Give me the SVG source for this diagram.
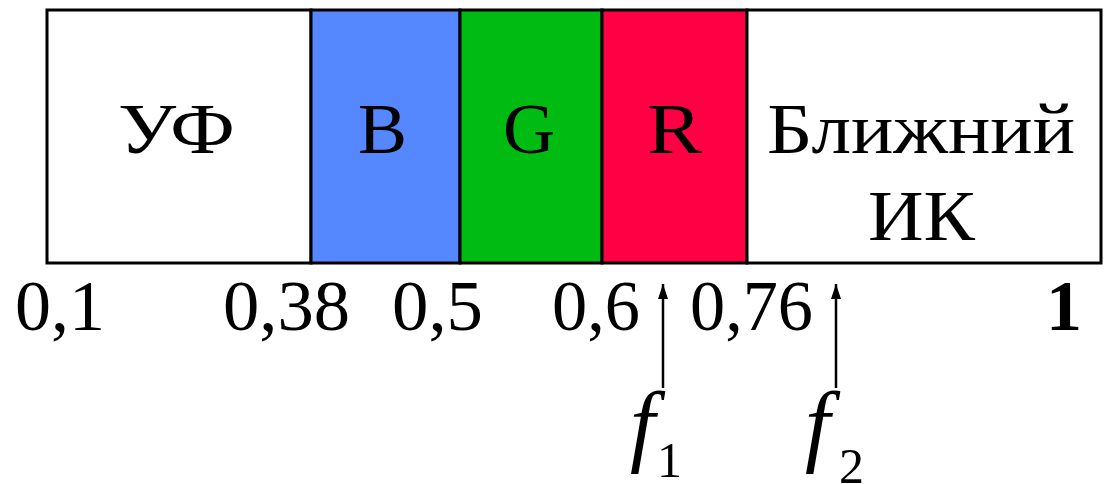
<svg xmlns="http://www.w3.org/2000/svg" width="1105" height="484" viewBox="0 0 1105 484">
<style>
.band{stroke:#000;stroke-width:3}
.lbl{font-family:"Liberation Serif","Times New Roman",serif;font-size:72px;fill:#000;text-anchor:middle}
.num{font-family:"Liberation Serif","Times New Roman",serif;font-size:72px;fill:#000}
.fi{font-family:"Liberation Serif","Times New Roman",serif;font-style:italic;font-size:90px;fill:#000}
.sub{font-family:"Liberation Serif","Times New Roman",serif;font-size:50px;fill:#000}
.conn{stroke:#000;stroke-width:2.5;fill:none}
</style>
<defs>
<marker id="ah" viewBox="0 0 15 10" refX="15" refY="5" markerWidth="15" markerHeight="10" orient="auto" markerUnits="userSpaceOnUse">
<path d="M0,0 L15,5 L0,10 Z" fill="#000"/>
</marker>
</defs>
<rect width="1105" height="484" fill="#fff"/>
<g id="uv"><rect class="band" x="47" y="10" width="264" height="253" fill="#fff"/><text class="lbl" x="176.5" y="153" textLength="117" lengthAdjust="spacingAndGlyphs">УФ</text></g>
<g id="blue"><rect class="band" x="311" y="10" width="149" height="253" fill="#5588ff"/><text class="lbl" x="382.5" y="153" textLength="49" lengthAdjust="spacingAndGlyphs">B</text></g>
<g id="green"><rect class="band" x="460" y="10" width="142" height="253" fill="#00bb11"/><text class="lbl" x="529" y="153" textLength="52" lengthAdjust="spacingAndGlyphs">G</text></g>
<g id="red"><rect class="band" x="602" y="10" width="145" height="253" fill="#ff0044"/><text class="lbl" x="674.5" y="153" textLength="55" lengthAdjust="spacingAndGlyphs">R</text></g>
<g id="nir"><rect class="band" x="747" y="10" width="354" height="253" fill="#fff"/><text class="lbl" x="921" y="153" textLength="308" lengthAdjust="spacingAndGlyphs">Ближний</text><text class="lbl" x="921.5" y="240" textLength="107" lengthAdjust="spacingAndGlyphs">ИК</text></g>
<g id="scale">
<text class="num" x="15" y="330">0,1</text>
<text class="num" x="223" y="330" textLength="127" lengthAdjust="spacingAndGlyphs">0,38</text>
<text class="num" x="392" y="330" textLength="91" lengthAdjust="spacingAndGlyphs">0,5</text>
<text class="num" x="552" y="330" textLength="88" lengthAdjust="spacingAndGlyphs">0,6</text>
<text class="num" x="690" y="330" textLength="123" lengthAdjust="spacingAndGlyphs">0,76</text>
<text class="num" x="1046" y="330" font-weight="bold">1</text>
</g>
<g id="connectors">
<line class="conn" x1="663" y1="388" x2="663" y2="284" marker-end="url(#ah)"/>
<line class="conn" x1="836" y1="388" x2="836" y2="284" marker-end="url(#ah)"/>
</g>
<g id="f1"><text class="fi" x="630" y="455">f</text><text class="sub" x="657" y="477">1</text></g>
<g id="f2"><text class="fi" x="805" y="455">f</text><text class="sub" x="839" y="483">2</text></g>
</svg>
